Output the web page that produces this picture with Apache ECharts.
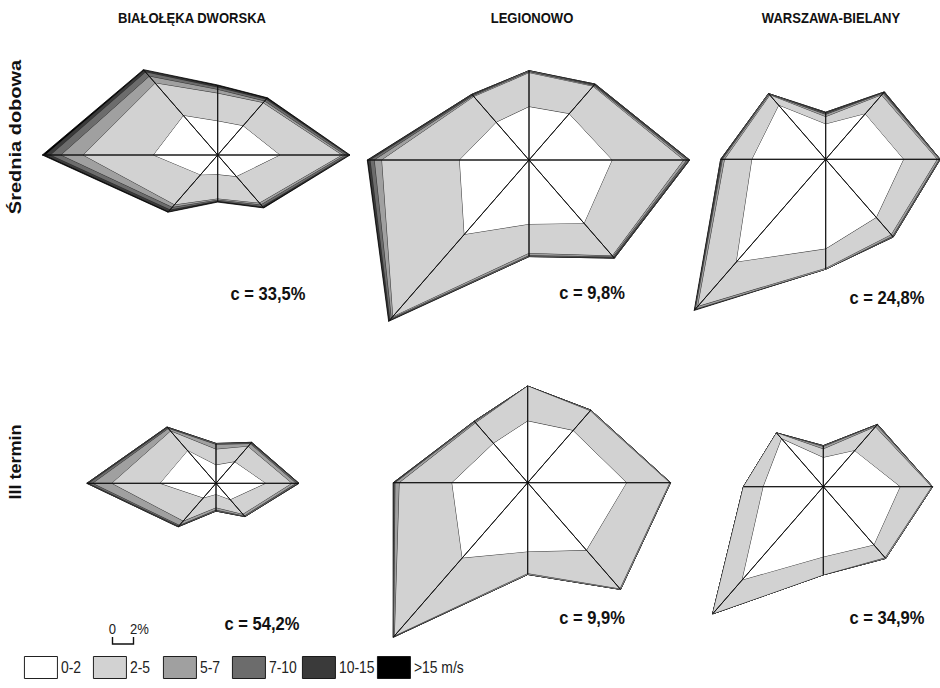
<!DOCTYPE html>
<html>
<head>
<meta charset="utf-8">
<script src="https://cdn.jsdelivr.net/npm/echarts@6/dist/echarts.min.js"></script>
<style>
  html, body { margin: 0; padding: 0; background: #fff; overflow: hidden; }
  #wrap { width: 940px; height: 688px; overflow: hidden; position: relative; }
  #chart { width: 1081px; height: 688px; transform: scaleX(0.87); transform-origin: 0 0; }
</style>
</head>
<body>
<div id="wrap"><div id="chart"></div></div>
<script>
// ---- data -------------------------------------------------------------
const directions = ['N', 'NE', 'E', 'SE', 'S', 'SW', 'W', 'NW'];
const speedClasses = ['0-2', '2-5', '5-7', '7-10', '10-15', '>15 m/s'];
const stations = ['BIAŁOŁĘKA DWORSKA', 'LEGIONOWO', 'WARSZAWA-BIELANY'];
const periods = ['Średnia dobowa', 'III termin'];
const calms = [[33.5, 9.8, 24.8], [54.2, 9.9, 34.9]];

// frequency [%] of each wind-speed class (rows, as speedClasses) per direction (columns, as directions)
const bialolekaDaily = [
  [2.8, 3.4, 5.9, 2.5, 1.6, 2.3, 6.1, 4.6],
  [2.3, 2.7, 5.9, 3.1, 2.0, 3.5, 6.7, 3.8],
  [0.3, 0.2, 0.3, 0.2, 0.1, 0.3, 2.1, 0.8],
  [0.2, 0.2, 0.3, 0.2, 0.1, 0.3, 1.0, 0.5],
  [0.1, 0.1, 0.1, 0.1, 0.0, 0.2, 0.5, 0.2],
  [0.1, 0.1, 0.1, 0.1, 0.1, 0.1, 0.3, 0.1]
];
const legionowoDaily = [
  [4.4, 5.4, 7.9, 7.4, 5.3, 8.7, 6.6, 4.4],
  [2.8, 3.2, 6.8, 3.8, 2.4, 9.6, 7.4, 3.0],
  [0.1, 0.1, 0.3, 0.1, 0.2, 0.2, 0.7, 0.1],
  [0.1, 0.1, 0.2, 0.1, 0.1, 0.2, 0.4, 0.1],
  [0.0, 0.1, 0.1, 0.1, 0.0, 0.1, 0.2, 0.1],
  [0.0, 0.0, 0.0, 0.0, 0.0, 0.1, 0.1, 0.0]
];
const bielanyDaily = [
  [2.9, 5.3, 7.4, 6.8, 7.4, 12.0, 7.0, 6.3],
  [0.6, 2.2, 3.2, 2.0, 1.6, 5.2, 2.6, 1.2],
  [0.2, 0.2, 0.2, 0.2, 0.1, 0.3, 0.2, 0.1],
  [0.1, 0.1, 0.1, 0.1, 0.0, 0.1, 0.1, 0.1],
  [0.1, 0.1, 0.0, 0.0, 0.0, 0.0, 0.1, 0.0],
  [0.0, 0.0, 0.0, 0.0, 0.0, 0.1, 0.0, 0.0]
];
const bialolekaIII = [
  [1.5, 2.5, 4.7, 1.9, 0.9, 1.7, 5.3, 3.8],
  [1.3, 1.8, 2.5, 1.7, 1.1, 2.7, 4.6, 2.3],
  [0.4, 0.3, 0.4, 0.2, 0.2, 0.5, 1.8, 0.3],
  [0.1, 0.1, 0.2, 0.1, 0.1, 0.1, 0.4, 0.1],
  [0.0, 0.1, 0.1, 0.0, 0.0, 0.1, 0.2, 0.1],
  [0.0, 0.0, 0.0, 0.0, 0.0, 0.0, 0.0, 0.0]
];
const legionowoIII = [
  [5.1, 6.1, 9.4, 7.9, 5.7, 8.8, 7.2, 4.6],
  [2.9, 2.3, 4.1, 4.5, 1.8, 9.1, 5.0, 2.4],
  [0.0, 0.1, 0.1, 0.1, 0.1, 0.1, 0.4, 0.1],
  [0.0, 0.0, 0.0, 0.0, 0.0, 0.1, 0.1, 0.1],
  [0.0, 0.0, 0.0, 0.0, 0.0, 0.0, 0.1, 0.0],
  [0.0, 0.0, 0.0, 0.0, 0.0, 0.0, 0.0, 0.0]
];
const bielanyIII = [
  [2.4, 4.2, 7.3, 6.8, 5.8, 10.9, 5.7, 5.6],
  [0.7, 2.8, 3.0, 1.5, 1.5, 4.0, 1.9, 0.7],
  [0.2, 0.2, 0.1, 0.1, 0.0, 0.0, 0.0, 0.0],
  [0.1, 0.1, 0.0, 0.0, 0.0, 0.0, 0.0, 0.0],
  [0.0, 0.0, 0.0, 0.0, 0.0, 0.0, 0.0, 0.0],
  [0.0, 0.0, 0.0, 0.0, 0.0, 0.0, 0.0, 0.0]
];
const roses = [
  [bialolekaDaily, legionowoDaily, bielanyDaily],
  [bialolekaIII, legionowoIII, bielanyIII]
];
const scaleBarPct = 2;

// ---- styling & layout ---------------------------------------------------
const classColors = ['#ffffff', '#d2d2d2', '#a0a0a0', '#6c6c6c', '#3a3a3a', '#000000'];
const FONT = "'Liberation Sans', Arial, Helvetica, sans-serif";
const SX = 0.87;          // the canvas is squeezed horizontally by this factor
const PCT_PX = 12.07;     // pixels per 1 % of frequency along a spoke
const R_MAX = 20;         // radial extent of every rose, in %
// rose centres in page pixels [x, y] (row by row)
const roseCenters = [
  [[217.7, 155.0], [529.0, 160.0], [825.7, 159.3]],
  [[216.0, 483.3], [527.7, 482.7], [823.3, 486.7]]
];
const headerPos = [[192, 18], [532, 18], [831, 18]];
const periodPos = [[15, 137], [16, 462]];
const calmPos = [
  [[268, 294], [592, 293], [887, 298]],
  [[262, 624], [592, 618], [887, 618]]
];
const legendLeft = [24, 93, 163, 232, 302, 377];
const legendTop = 656;
const X = v => v / SX;

// radar indicators run counter-clockwise from the top: N, NW, W, SW, S, SE, E, NE
const ccwOrder = [0, 7, 6, 5, 4, 3, 2, 1];
const toRadar = arr => ccwOrder.map(i => arr[i]);

const radars = [];
const series = [];
let radarIndex = 0;
roses.forEach((row, r) => {
  row.forEach((classes, c) => {
    const [cx, cy] = roseCenters[r][c];
    radars.push({
      center: [X(cx), cy],
      radius: R_MAX * PCT_PX,
      startAngle: 90,
      shape: 'polygon',
      indicator: ccwOrder.map(i => ({ name: directions[i], min: 0, max: R_MAX })),
      axisName: { show: false },
      axisLine: { show: false },
      axisTick: { show: false },
      axisLabel: { show: false },
      splitLine: { show: false },
      splitArea: { show: false },
      silent: true
    });
    // cumulative frequencies: outer edge of each speed class
    const cum = [];
    classes.forEach((vals, k) => {
      cum.push(vals.map((v, d) => +(v + (k ? cum[k - 1][d] : 0)).toFixed(2)));
    });
    // paint from the strongest class inwards so calmer bands sit on top
    for (let k = classes.length - 1; k >= 0; k--) {
      series.push({
        type: 'radar',
        name: speedClasses[k],
        radarIndex: radarIndex,
        symbol: 'none',
        silent: true,
        animation: false,
        itemStyle: { color: classColors[k] },
        lineStyle: { color: '#2a2a2a', width: 1 },
        areaStyle: { color: classColors[k], opacity: 1 },
        data: [{ value: toRadar(cum[k]) }]
      });
    }
    // spokes from the centre to the outer vertex in each direction
    const total = cum[cum.length - 1];
    series.push({
      type: 'radar',
      radarIndex: radarIndex,
      symbol: 'none',
      silent: true,
      animation: false,
      lineStyle: { color: '#111', width: 1 },
      data: directions.map((d, i) => ({
        name: d,
        value: toRadar(directions.map((_, j) => (j === i ? total[i] : 0)))
      }))
    });
    radarIndex++;
  });
});

// ---- text and scale bar --------------------------------------------------
const graphic = [];
stations.forEach((s, c) => {
  graphic.push({
    type: 'text', x: X(headerPos[c][0]), y: headerPos[c][1],
    style: { text: s, align: 'center', verticalAlign: 'middle', fill: '#111',
             font: 'bold 15px ' + FONT }
  });
});
periods.forEach((p, r) => {
  graphic.push({
    type: 'text', x: X(periodPos[r][0]), y: periodPos[r][1], rotation: Math.PI / 2,
    style: { text: p, align: 'center', verticalAlign: 'middle', fill: '#111',
             font: 'bold ' + (r ? 18 : 20) + 'px ' + FONT }
  });
});
calms.forEach((row, r) => {
  row.forEach((v, c) => {
    graphic.push({
      type: 'text', x: X(calmPos[r][c][0]), y: calmPos[r][c][1],
      style: { text: 'c = ' + v.toFixed(1).replace('.', ',') + '%', align: 'center',
               verticalAlign: 'middle', fill: '#111', font: 'bold 19px ' + FONT }
    });
  });
});
const barX0 = X(112.5), barY = 644, barLen = scaleBarPct * PCT_PX;
graphic.push({
  type: 'polyline',
  shape: { points: [[barX0, barY - 7], [barX0, barY], [barX0 + barLen, barY], [barX0 + barLen, barY - 7]] },
  style: { stroke: '#111', lineWidth: 1.6, fill: null }
});
graphic.push({
  type: 'text', x: barX0, y: 629,
  style: { text: '0', align: 'center', verticalAlign: 'middle', fill: '#222', font: '15px ' + FONT }
});
graphic.push({
  type: 'text', x: barX0 + barLen - 4, y: 629,
  style: { text: scaleBarPct + '%', align: 'left', verticalAlign: 'middle', fill: '#222', font: '15px ' + FONT }
});

// one legend block per speed class, evenly spaced along the bottom
const legends = speedClasses.map((n, i) => ({
  left: X(legendLeft[i]), top: legendTop,
  padding: 0,
  orient: 'horizontal',
  icon: 'rect',
  itemWidth: X(33), itemHeight: 22, itemGap: 0,
  selectedMode: false,
  data: [{ name: n, itemStyle: { color: classColors[i], borderColor: '#111', borderWidth: 1 } }],
  textStyle: { fontSize: 16, color: '#222', fontFamily: FONT, padding: [0, 0, 0, -1] }
}));

const chart = echarts.init(document.getElementById('chart'), null, { renderer: 'svg' });
chart.setOption({
  animation: false,
  backgroundColor: '#fff',
  radar: radars,
  series: series,
  legend: legends,
  graphic: graphic
});
</script>
</body>
</html>
